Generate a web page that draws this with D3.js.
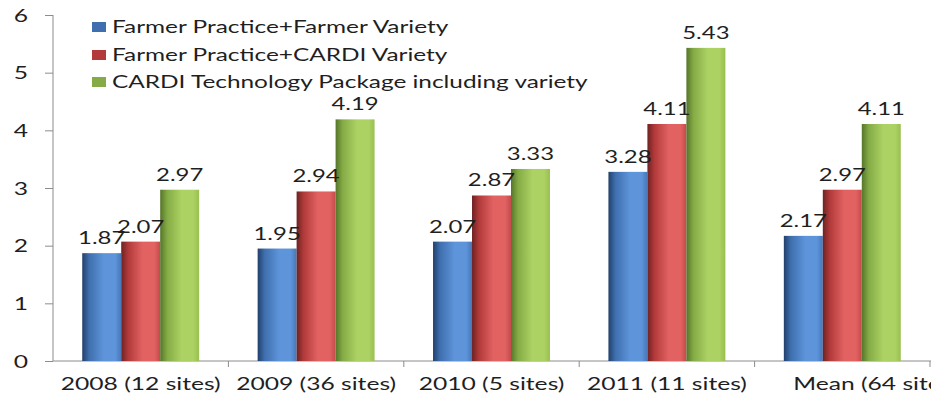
<!DOCTYPE html>
<html>
<head>
<meta charset="utf-8">
<script src="https://cdn.jsdelivr.net/npm/d3@7"></script>
<style>
  html, body { margin: 0; padding: 0; background: #fff; }
  svg { display: block; }
  text { font-family: Lato, "Open Sans", sans-serif; fill: #1f1f1f; }
</style>
</head>
<body>
<svg id="chart" width="931" height="400"></svg>
<script>
const categories = ["2008 (12 sites)", "2009 (36 sites)", "2010 (5 sites)", "2011 (11 sites)", "Mean (64 sites)"];
const seriesNames = ["Farmer Practice+Farmer Variety", "Farmer Practice+CARDI Variety", "CARDI Technology Package including variety"];
const farmerFarmer = [1.87, 1.95, 2.07, 3.28, 2.17];
const farmerCardi = [2.07, 2.94, 2.87, 4.11, 2.97];
const cardiPackage = [2.97, 4.19, 3.33, 5.43, 4.11];
const yTicks = [0, 1, 2, 3, 4, 5, 6];

const seriesValues = [farmerFarmer, farmerCardi, cardiPackage];
const colors = [
  {dark: "#22406c", mid: "#3f6fae", light: "#5d94da", edge: "#4677b8"},
  {dark: "#6e2222", mid: "#b23a3a", light: "#e26262", edge: "#c44a4a"},
  {dark: "#56752a", mid: "#84ab45", light: "#acd264", edge: "#98bf50"}
];
const S = 1.45; // horizontal stretch of text

const svg = d3.select("#chart");
const defs = svg.append("defs");
colors.forEach((c, i) => {
  const g = defs.append("linearGradient").attr("id", "grad" + i)
    .attr("x1", "0%").attr("x2", "100%").attr("y1", "0%").attr("y2", "0%");
  g.append("stop").attr("offset", "0%").attr("stop-color", c.dark);
  g.append("stop").attr("offset", "18%").attr("stop-color", c.mid);
  g.append("stop").attr("offset", "55%").attr("stop-color", c.light);
  g.append("stop").attr("offset", "85%").attr("stop-color", c.light);
  g.append("stop").attr("offset", "100%").attr("stop-color", c.edge);
});

const mLeft = 53, mRight = 930, mTop = 15, mBottom = 361;
const x = d3.scaleBand().domain(categories).range([mLeft, mRight]).paddingInner(0).paddingOuter(0);
const bw = x.bandwidth();
const xs = d3.scaleBand().domain(d3.range(seriesNames.length)).range([bw / 6, bw * 5 / 6]).padding(0);
const y = d3.scaleLinear().domain([0, 6]).range([mBottom, mTop]);

const axisColor = "#8c8c8c";

// Y axis
const yAxis = svg.append("g").attr("transform", `translate(${mLeft},0)`)
  .call(d3.axisLeft(y).tickValues(yTicks).tickSize(8).tickFormat(d3.format("d")));
yAxis.select(".domain").attr("stroke", axisColor).attr("d", `M0,${mTop}V${mBottom}`);
yAxis.selectAll(".tick line").attr("stroke", axisColor);
yAxis.selectAll(".tick text")
  .attr("x", 0).attr("dy", "0.36em")
  .attr("transform", `translate(-25,0) scale(${S},1)`)
  .style("font-size", "17px").style("font-family", "Lato, sans-serif").attr("fill", "#1f1f1f");

// X axis line and boundary ticks
const xAxisG = svg.append("g");
xAxisG.append("line").attr("x1", mLeft).attr("x2", 931).attr("y1", mBottom).attr("y2", mBottom)
  .attr("stroke", axisColor);
const boundaries = categories.map(c => x(c)).concat([x.range()[1]]);
xAxisG.selectAll("line.bt").data(boundaries.slice(1)).join("line").attr("class", "bt")
  .attr("x1", d => d).attr("x2", d => d).attr("y1", mBottom).attr("y2", mBottom + 6)
  .attr("stroke", axisColor);

// Category labels
const labelOffset = (c, i) => i === categories.length - 1 ? 33 : 0;
svg.append("g").selectAll("text").data(categories).join("text")
  .attr("transform", (c, i) => `translate(${x(c) + bw / 2 + labelOffset(c, i)},390) scale(${S},1)`)
  .attr("text-anchor", "middle")
  .style("font-size", "17px")
  .text(d => d);

// Bars
const groups = svg.append("g").selectAll("g").data(categories).join("g")
  .attr("transform", c => `translate(${x(c)},0)`);
seriesNames.forEach((s, si) => {
  groups.append("rect")
    .attr("x", xs(si)).attr("width", xs.bandwidth())
    .attr("y", (c, ci) => y(seriesValues[si][ci]))
    .attr("height", (c, ci) => y(0) - y(seriesValues[si][ci]))
    .attr("fill", `url(#grad${si})`);
});
seriesNames.forEach((s, si) => {
  groups.append("text")
    .attr("transform", (c, ci) => `translate(${xs(si) + xs.bandwidth() / 2},${y(seriesValues[si][ci]) - 9}) scale(${S},1)`)
    .attr("text-anchor", "middle")
    .style("font-size", "16.5px")
    .text((c, ci) => seriesValues[si][ci].toFixed(2));
});

// Legend
const legend = svg.append("g").attr("transform", "translate(92,0)");
const rowY = [33, 61, 88];
seriesNames.forEach((s, i) => {
  legend.append("rect").attr("x", 0).attr("y", rowY[i] - 11).attr("width", 14).attr("height", 10)
    .attr("fill", colors[i].mid);
  legend.append("text").attr("transform", `translate(20,${rowY[i]}) scale(${S * 0.99},1)`)
    .style("font-size", "17px").text(s);
});
</script>
</body>
</html>
